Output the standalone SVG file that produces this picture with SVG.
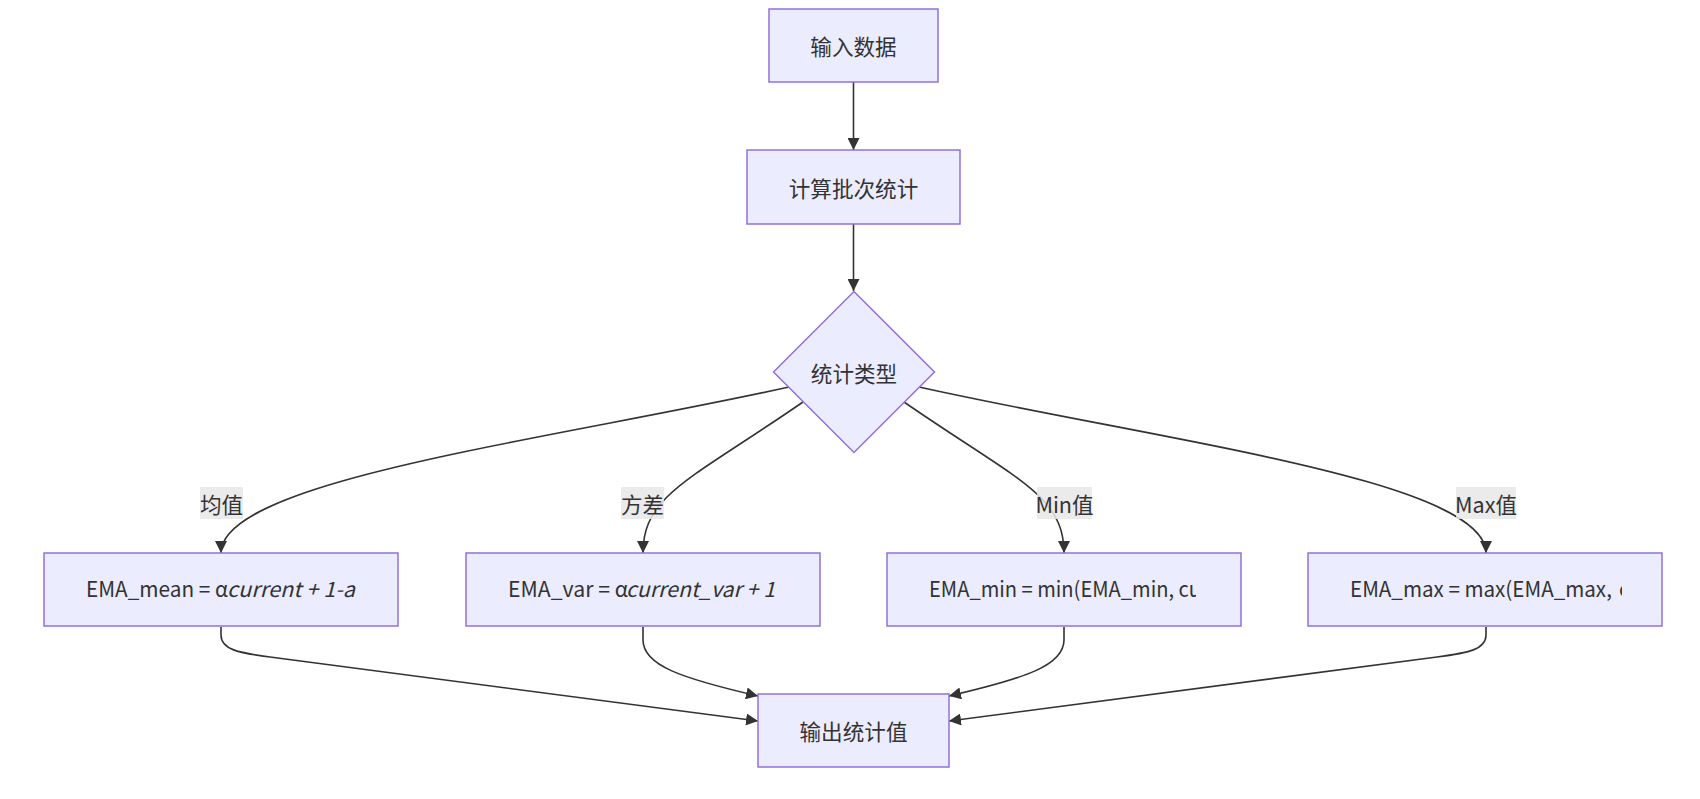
<svg xmlns="http://www.w3.org/2000/svg" width="1700" height="799" viewBox="0 0 1700 799">
<style>
.node{fill:#ECECFF;stroke:#9370DB;stroke-width:1.5}
.t{font-family:"Noto Sans CJK SC","Liberation Sans",sans-serif;font-size:21.6px;fill:#333}
.b{font-size:21px}
.c{text-anchor:middle;dominant-baseline:central}
.it{font-style:italic}
.edge{fill:none;stroke:#333;stroke-width:1.6}
.lbl{fill:#e8e8e8;fill-opacity:0.85}
</style>
<defs>
<marker id="arrow" viewBox="0 0 12 12" refX="12" refY="6" markerWidth="12" markerHeight="12" markerUnits="userSpaceOnUse" orient="auto">
<path d="M0,0 L12,6 L0,12 z" fill="#333"/>
</marker>
<clipPath id="cp1"><rect x="86" y="560" width="272" height="60"/></clipPath>
<clipPath id="cp2"><rect x="508" y="560" width="270" height="60"/></clipPath>
<clipPath id="cp3"><rect x="929" y="560" width="267" height="60"/></clipPath>
<clipPath id="cp4"><rect x="1350" y="560" width="272" height="60"/></clipPath>
</defs>

<g id="edges">
<path class="edge" d="M853.5,82 L853.5,150" marker-end="url(#arrow)"/>
<path class="edge" d="M853.5,224 L853.5,291" marker-end="url(#arrow)"/>
<path class="edge" d="M789,387 C550,440 221,480 221,553" marker-end="url(#arrow)"/>
<path class="edge" d="M803,402 C690,480 643,495 643,553" marker-end="url(#arrow)"/>
<path class="edge" d="M904,402 C1017,480 1064,495 1064,553" marker-end="url(#arrow)"/>
<path class="edge" d="M919,387 C1157,440 1486,480 1486,553" marker-end="url(#arrow)"/>
<path class="edge" d="M221,627 L221,635 C221,650 240,653 270,657 L758,721" marker-end="url(#arrow)"/>
<path class="edge" d="M643,627 L643,640 C643,665 680,678 758,696" marker-end="url(#arrow)"/>
<path class="edge" d="M1064,627 L1064,640 C1064,665 1027,678 949,696" marker-end="url(#arrow)"/>
<path class="edge" d="M1486,627 L1486,635 C1486,650 1467,653 1437,657 L949,721" marker-end="url(#arrow)"/>
</g>

<g id="edge-labels">
<g id="label-mean"><rect class="lbl" x="200" y="487" width="43" height="32"/><text class="t c" x="221.5" y="503">均值</text></g>
<g id="label-var"><rect class="lbl" x="621" y="487" width="43" height="32"/><text class="t c" x="642.5" y="503">方差</text></g>
<g id="label-min"><rect class="lbl" x="1037" y="487" width="55" height="32"/><text class="t c" x="1064.5" y="503">Min值</text></g>
<g id="label-max"><rect class="lbl" x="1456" y="487" width="60" height="32"/><text class="t c" x="1486" y="503">Max值</text></g>
</g>

<g id="n-input"><rect class="node" x="769" y="9" width="169" height="73"/><text class="t c" x="853.5" y="45.5">输入数据</text></g>
<g id="n-batch"><rect class="node" x="747" y="150" width="213" height="74"/><text class="t c" x="853.5" y="187">计算批次统计</text></g>
<g id="n-type"><polygon class="node" points="854,291.5 934.5,372 854,452.5 773.5,372"/><text class="t c" x="854" y="372">统计类型</text></g>

<g id="n-mean"><rect class="node" x="44" y="553" width="354" height="73"/>
<text class="t b" x="86" y="597" textLength="142" lengthAdjust="spacingAndGlyphs" clip-path="url(#cp1)">EMA_mean = α</text>
<text class="t b it" x="227" y="597" textLength="128" lengthAdjust="spacingAndGlyphs" clip-path="url(#cp1)">current + 1-a</text></g>
<g id="n-var"><rect class="node" x="466" y="553" width="354" height="73"/>
<text class="t b" x="508" y="597" textLength="120" lengthAdjust="spacingAndGlyphs" clip-path="url(#cp2)">EMA_var = α</text>
<text class="t b it" x="626" y="597" textLength="149" lengthAdjust="spacingAndGlyphs" clip-path="url(#cp2)">current_var + 1</text></g>
<g id="n-min"><rect class="node" x="887" y="553" width="354" height="73"/>
<text class="t b" x="929" y="597" textLength="272" lengthAdjust="spacingAndGlyphs" clip-path="url(#cp3)">EMA_min = min(EMA_min, cu</text></g>
<g id="n-max"><rect class="node" x="1308" y="553" width="354" height="73"/>
<text class="t b" x="1350" y="597" textLength="262" lengthAdjust="spacingAndGlyphs" clip-path="url(#cp4)">EMA_max = max(EMA_max,</text>
<text class="t b" x="1619" y="597" clip-path="url(#cp4)">c</text></g>

<g id="n-out"><rect class="node" x="758" y="694" width="191" height="73"/><text class="t c" x="853.5" y="730.5">输出统计值</text></g>
</svg>
